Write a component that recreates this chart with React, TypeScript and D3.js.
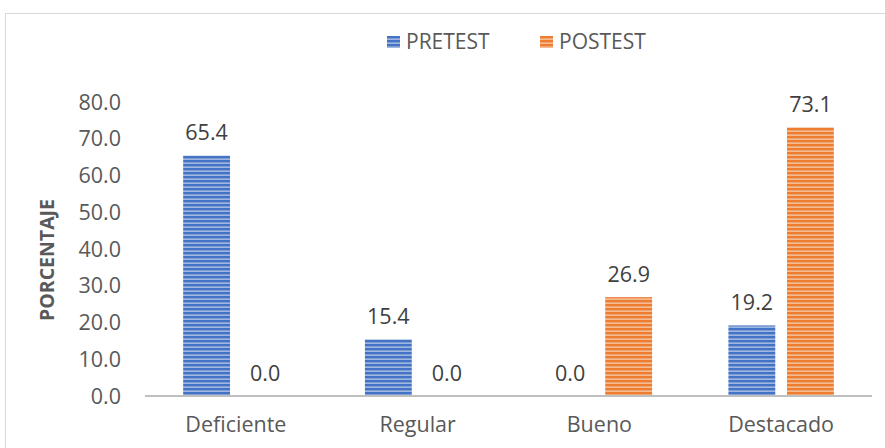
import React from "react";
import * as d3 from "d3";

const categories = ["Deficiente", "Regular", "Bueno", "Destacado"];
const seriesNames = ["PRETEST", "POSTEST"];
const pretest = [65.4, 15.4, 0.0, 19.2];
const postest = [0.0, 0.0, 26.9, 73.1];
const yTicks = [0, 10, 20, 30, 40, 50, 60, 70, 80];

const W = 885, H = 448;
const margin = { left: 145, right: 13, top: 102, bottom: 52 };
const colors = ["#4472C4", "#ED7D31"];
const lightColors = ["#b4c7e7", "#f8cbad"];
const FONT = "'Open Sans', sans-serif";
const FS = 21.5;

export default function App() {
  const x0 = d3.scaleBand().domain(categories).range([margin.left, W - margin.right]).paddingInner(0.42).paddingOuter(0.21);
  const x1 = d3.scaleBand().domain(seriesNames).range([0, x0.bandwidth()]).paddingInner(0.2);
  const y = d3.scaleLinear().domain([0, 80]).range([H - margin.bottom, margin.top]);
  const data = [pretest, postest];
  return (
    <svg width={W} height={H} style={{ position: "absolute", left: 0, top: 0 }} fontFamily={FONT}>
      <defs>
        {colors.map((c, i) => (
          <pattern key={i} id={`stripe${i}`} width={8} height={4} patternUnits="userSpaceOnUse">
            <rect width={8} height={4} fill={c} />
            <rect y={2.5} width={8} height={1.3} fill={lightColors[i]} />
          </pattern>
        ))}
      </defs>
      <rect x={0} y={0} width={W} height={H} fill="#fff" />
      <rect x={5.5} y={13.5} width={W + 10} height={H + 10} fill="none" stroke="#d9d9d9" strokeWidth={1} />
      {yTicks.map((t) => (
        <text key={t} x={121} y={y(t)} dy="0.35em" textAnchor="end" fontSize={FS} fill="#595959">
          {t.toFixed(1)}
        </text>
      ))}
      <text transform={`translate(47.5,${260}) rotate(-90)`} textAnchor="middle" dy="0.35em" fontSize={19.5} fontWeight="bold" fill="#595959">
        PORCENTAJE
      </text>
      {categories.map((c, ci) =>
        data.map((vals, si) => {
          const bx = (x0(c) as number) + (x1(seriesNames[si]) as number);
          const v = vals[ci];
          return (
            <g key={`${ci}-${si}`}>
              {v > 0 && (
                <rect x={bx} y={y(v)} width={x1.bandwidth()} height={y(0) - y(v)} fill={`url(#stripe${si})`} />
              )}
              <text x={bx + x1.bandwidth() / 2} y={y(v) - 23} dy="0.35em" textAnchor="middle" fontSize={FS} fill="#404040">
                {v.toFixed(1)}
              </text>
            </g>
          );
        })
      )}
      <line x1={margin.left} x2={W - margin.right} y1={y(0)} y2={y(0)} stroke="#bfbfbf" strokeWidth={2} />
      {categories.map((c) => (
        <text key={c} x={(x0(c) as number) + x0.bandwidth() / 2} y={424} dy="0.35em" textAnchor="middle" fontSize={FS} fill="#595959">
          {c}
        </text>
      ))}
      {seriesNames.map((s, i) => {
        const lx = [387, 540][i];
        return (
          <g key={s}>
            <rect x={lx} y={36} width={13} height={12} fill={`url(#stripe${i})`} />
            <text x={lx + 19} y={42} dy="0.35em" fontSize={21} fill="#595959">
              {s}
            </text>
          </g>
        );
      })}
    </svg>
  );
}
